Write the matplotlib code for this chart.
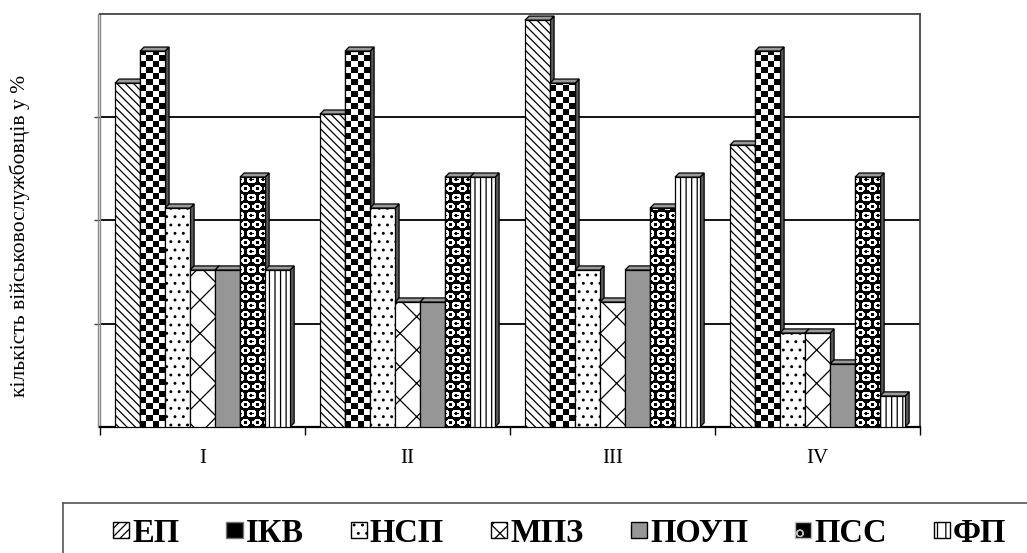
import numpy as np
import matplotlib.pyplot as plt
from matplotlib.patches import Polygon, Patch, Rectangle
from matplotlib.lines import Line2D

plt.rcParams['font.family'] = ['Liberation Serif', 'DejaVu Serif']
plt.rcParams['hatch.linewidth'] = 0.9

categories = ['I', 'II', 'III', 'IV']
series = ['ЕП', 'ІКВ', 'НСП', 'МПЗ', 'ПОУП', 'ПСС', 'ФП']

# share of servicemen, %
ep = [33.3, 30.3, 39.4, 27.3]
ikv = [36.4, 36.4, 33.3, 36.4]
nsp = [21.2, 21.2, 15.2, 9.1]
mpz = [15.2, 12.1, 12.1, 9.1]
poup = [15.2, 12.1, 15.2, 6.1]
pss = [24.2, 24.2, 21.2, 24.2]
fp = [15.2, 24.2, 24.2, 3.0]
values = [ep, ikv, nsp, mpz, poup, pss, fp]

styles = [
    dict(face='white', hatch='\\\\\\\\', tex=None),
    dict(face='white', hatch=None, tex='checker'),
    dict(face='white', hatch='..', tex=None),
    dict(face='white', hatch='x', tex=None),
    dict(face='#969696', hatch=None, tex=None),
    dict(face='black', hatch=None, tex='rings'),
    dict(face='white', hatch='|||', tex=None),
]


def checker_img(nrows, ncols):
    r, c = np.indices((nrows, ncols))
    return ((r + c) % 2).astype(float)


def rings_img(h, w):
    r, c = np.indices((h, w)).astype(float)
    ty = r % 9 - 4
    shift = ((r // 9) % 2) * 5.5
    tx = (c + shift) % 11 - 5
    d = np.hypot(tx / 1.15, ty / 0.95)
    return ((d > 1.6) & (d < 3.9)).astype(float)


W, H = 1027, 553
fig = plt.figure(figsize=(W / 100, H / 100), dpi=100)
ax = fig.add_axes([100 / W, (H - 427) / H, 820 / W, 413 / H])
ax.set_xlim(0, 4)
ax.set_ylim(0, 40)

# back wall grid
for g in [10, 20, 30]:
    ax.axhline(g, color='black', lw=1.3, zorder=1)
for s in ['top', 'right']:
    ax.spines[s].set_color('#444444')
    ax.spines[s].set_linewidth(1.3)
ax.spines['left'].set_color('#888888')
ax.spines['left'].set_linewidth(1.0)
ax.spines['bottom'].set_color('black')
ax.spines['bottom'].set_linewidth(1.6)
ax.axvline(-0.012, color='#888888', lw=1.0, clip_on=False)

bw = 0.122
off = 0.073
dx, dy = 0.02, 0.4
xpx = ax.transData.transform((1, 0))[0] - ax.transData.transform((0, 0))[0]
ypx = ax.transData.transform((0, 1))[1] - ax.transData.transform((0, 0))[1]
cx = np.arange(len(categories))

for j, (vals, st) in enumerate(zip(values, styles)):
    z = 3 + j * 0.1
    xs = cx + off + j * bw
    bars = ax.bar(xs, vals, bw, align='edge', color=st['face'],
                  edgecolor='black', lw=0.9, hatch=st['hatch'], zorder=z + 0.02)
    for b in bars:
        x0, w, h = b.get_x(), b.get_width(), b.get_height()
        top = Polygon([(x0, h), (x0 + dx, h + dy), (x0 + w + dx, h + dy), (x0 + w, h)],
                      closed=True, facecolor='#9a9a9a', edgecolor='black', lw=0.9,
                      zorder=z + 0.01, clip_on=False)
        side = Polygon([(x0 + w, 0), (x0 + w + dx, dy), (x0 + w + dx, h + dy), (x0 + w, h)],
                       closed=True, facecolor='#5a5a5a', edgecolor='black', lw=0.9,
                       zorder=z, clip_on=False)
        ax.add_patch(side)
        ax.add_patch(top)
        if st['tex'] == 'checker':
            cw = w / 4
            ch = 6 / ypx
            nr = int(np.ceil(h / ch))
            im = ax.imshow(checker_img(nr, 4), cmap='gray', vmin=0, vmax=1,
                           extent=(x0, x0 + 4 * cw, 0, nr * ch), origin='lower',
                           aspect='auto', interpolation='nearest', zorder=z + 0.03)
            im.set_clip_path(b)
        elif st['tex'] == 'rings':
            hp = int(np.ceil(h * ypx))
            wp = int(np.ceil(w * xpx))
            im = ax.imshow(rings_img(hp, wp), cmap='gray', vmin=0, vmax=1,
                           extent=(x0, x0 + wp / xpx, 0, hp / ypx), origin='lower',
                           aspect='auto', interpolation='nearest', zorder=z + 0.03)
            im.set_clip_path(b)
        if st['tex'] is not None:
            ax.add_patch(Rectangle((x0, 0), w, h, fill=False, edgecolor='black',
                                   lw=0.9, zorder=z + 0.04))

ax.set_xlim(0, 4)
ax.set_ylim(0, 40)
ax.set_xticks(cx + 0.5)
ax.set_xticklabels(categories, fontsize=15)
ax.set_xticks(np.arange(len(categories) + 1), minor=True)
ax.tick_params(axis='x', which='major', length=0, pad=16)
ax.tick_params(axis='x', which='minor', length=6, width=1, direction='out')
ax.set_yticks([10, 20, 30])
ax.set_yticklabels([])
ax.tick_params(axis='y', length=4, width=1, direction='out', color='#444444')

fig.text(20 / W, 1 - 236 / H, 'кількість військовослужбовців у %', rotation=90,
         ha='center', va='center', fontsize=15.5)

# legend
handles = [
    Patch(facecolor='white', edgecolor='black', hatch='////'),
    Patch(facecolor='black', edgecolor='#777777'),
    Patch(facecolor='white', edgecolor='black', hatch='..'),
    Patch(facecolor='white', edgecolor='black', hatch='xx'),
    Patch(facecolor='#969696', edgecolor='black'),
    Patch(facecolor='black', edgecolor='#bbbbbb', hatch='o'),
    Patch(facecolor='white', edgecolor='black', hatch='||'),
]
fig.legend(handles, series, ncol=7, loc='center left',
           bbox_to_anchor=(113 / W, 1 - 533 / H), frameon=False,
           prop={'weight': 'bold', 'size': 23.5}, handlelength=0.5, handleheight=0.37,
           handletextpad=0.09, columnspacing=1.44, borderpad=0, borderaxespad=0)
fig.add_artist(Line2D([63 / W, 1], [1 - 503 / H, 1 - 503 / H], color='#555555', lw=1.2))
fig.add_artist(Line2D([63 / W, 63 / W], [0, 1 - 503 / H], color='#555555', lw=1.2))

fig.savefig('out.png', dpi=100)
